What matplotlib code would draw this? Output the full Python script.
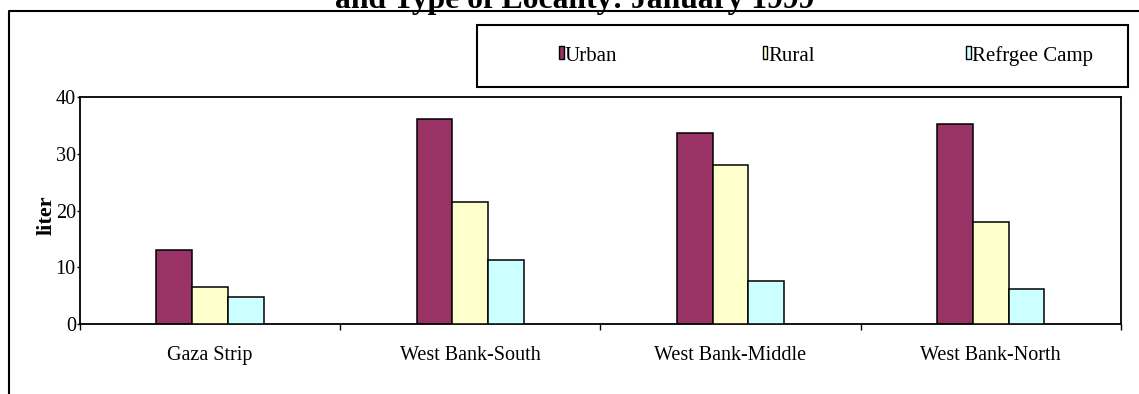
import matplotlib
matplotlib.use("Agg")
import matplotlib.pyplot as plt
import numpy as np
from matplotlib.patches import Rectangle
from matplotlib.lines import Line2D

plt.rcParams["font.family"] = ["Liberation Serif", "DejaVu Serif"]

# Data
regions = ["Gaza Strip", "West Bank-South", "West Bank-Middle", "West Bank-North"]
series_names = ["Urban", "Rural", "Refrgee Camp"]
urban = [13.1, 36.2, 33.6, 35.3]
rural = [6.6, 21.5, 28.1, 17.9]
camp = [4.7, 11.2, 7.6, 6.1]
colors = ["#993366", "#FFFFCC", "#CCFFFF"]
yticks = [0, 10, 20, 30, 40]

W, H = 1139, 394
fig = plt.figure(figsize=(W / 100, H / 100), dpi=100)


def fx(px):
    return px / W


def fy(py):
    return 1 - py / H


# Outer frame (left and top edges)
fig.add_artist(Line2D([fx(9), fx(9), fx(W + 5)], [fy(H + 5), fy(11), fy(11)],
                      transform=fig.transFigure, color="black", lw=1.5))

# Title (partly outside the canvas)
fig.text(fx(575), fy(8), "and Type of Locality: January 1999", ha="center",
         va="baseline", fontsize=22.8, fontweight="bold")

# Plot area
left, right, top, bottom = 80, 1120.7, 97, 324
ax = fig.add_axes([fx(left), fy(bottom), fx(right - left), (bottom - top) / H])

x = np.arange(len(regions))
bw = 0.1377
for i, (vals, col) in enumerate(zip([urban, rural, camp], colors)):
    ax.bar(x + (i - 1) * bw, vals, width=bw, color=col, edgecolor="black",
           linewidth=1.1, zorder=2 + i)

ax.set_xlim(-0.5, len(regions) - 0.5)
ax.set_ylim(0, 40)
ax.set_yticks(yticks)
ax.tick_params(axis="y", direction="out", length=2.5, width=1, pad=0.5,
               labelsize=14.5)

ax.set_xticks(np.arange(len(regions) + 1) - 0.5)
ax.set_xticklabels([])
ax.tick_params(axis="x", which="major", direction="out", length=4.5, width=1)
ax.set_xticks(x, minor=True)
ax.set_xticklabels(regions, minor=True)
ax.tick_params(axis="x", which="minor", length=0, pad=15.5, labelsize=14.5)

for s in ax.spines.values():
    s.set_linewidth(1.3)
    s.set_color("black")

ax.set_ylabel("liter", fontsize=16, fontweight="bold", va="center")
ax.yaxis.set_label_coords((46.5 - left) / (right - left), (bottom - 215) / (bottom - top))

# Legend box with entries spaced evenly
fig.add_artist(Rectangle((fx(477), fy(87)), fx(1128 - 477), (87 - 25) / H,
                         transform=fig.transFigure, fill=False,
                         edgecolor="black", lw=1.5))
x0, step = 559.2, 203.5
for i, (name, col) in enumerate(zip(series_names, colors)):
    mx = x0 + i * step
    fig.add_artist(Rectangle((fx(mx), fy(59.3)), fx(4.7), 13.6 / H,
                             transform=fig.transFigure, facecolor=col,
                             edgecolor="black", lw=1.0))
    fig.text(fx(mx + 5.6), fy(60.7), name, ha="left", va="baseline",
             fontsize=15)

fig.savefig("out.png", dpi=100)
